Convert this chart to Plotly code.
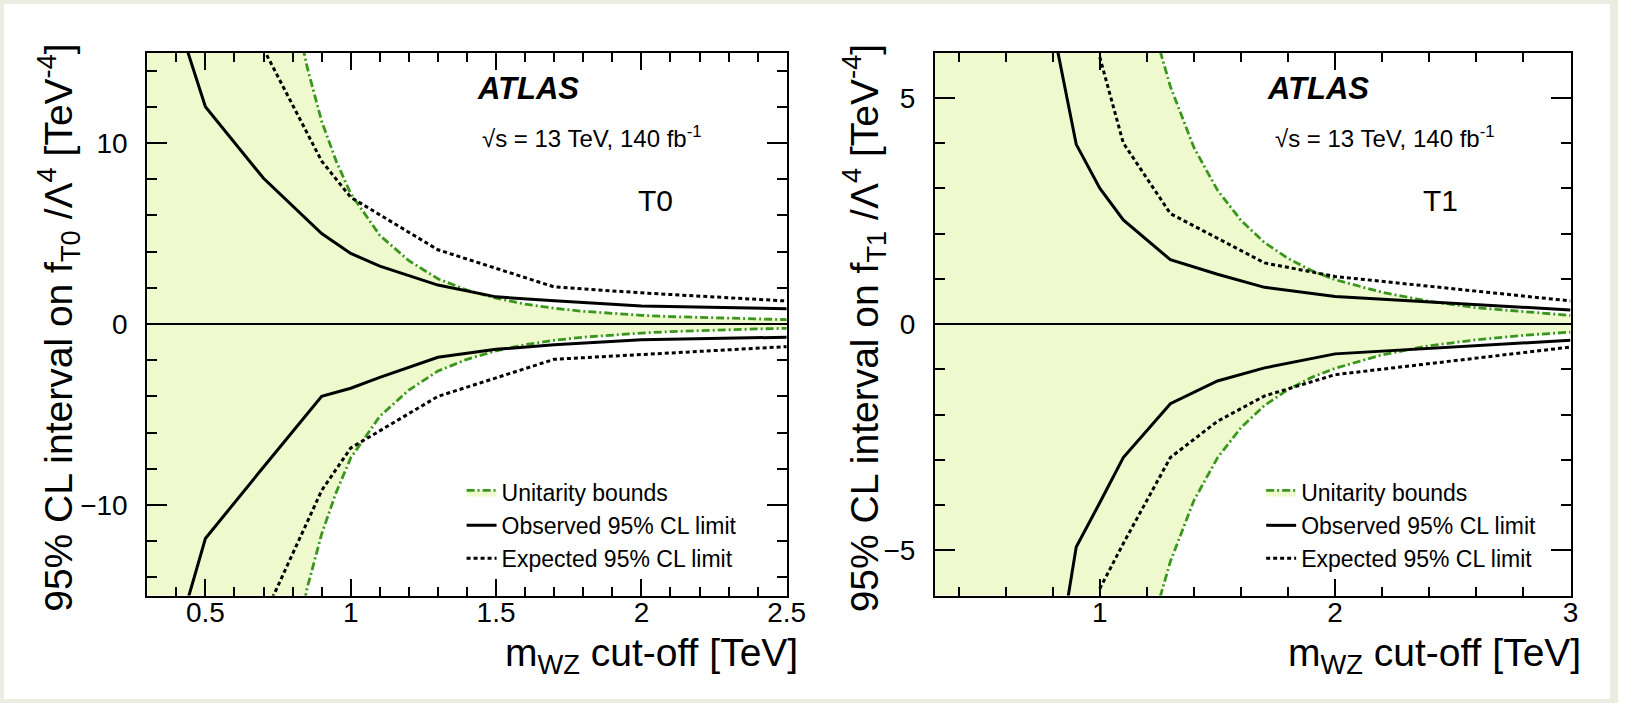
import plotly.graph_objects as go

# ---------------- data ----------------
# Left panel: T0
t0_unit_x = [0.3, 0.4, 0.5, 0.6, 0.7, 0.8, 0.85, 0.9, 0.95, 1.0, 1.1, 1.2, 1.3, 1.4, 1.5,
             1.6, 1.7, 1.8, 1.9, 2.0, 2.1, 2.2, 2.3, 2.4, 2.5]
t0_unit_up = [880, 280, 115, 55, 30, 18.0, 14.2, 11.2, 9.0, 7.2, 4.9, 3.5, 2.5, 1.87, 1.43,
              1.1, 0.87, 0.7, 0.57, 0.48, 0.41, 0.36, 0.31, 0.27, 0.24]
t0_unit_lo = [-900, -290, -118, -57, -31, -18.5, -14.6, -11.6, -9.3, -7.4, -5.1, -3.65, -2.6, -1.95, -1.48,
              -1.14, -0.9, -0.73, -0.6, -0.5, -0.42, -0.36, -0.31, -0.27, -0.24]

t0_obs_x = [0.3, 0.5, 0.7, 0.9, 1.0, 1.1, 1.3, 1.5, 1.7, 2.0, 2.5]
t0_obs_up = [22.0, 12.0, 8.05, 5.0, 3.9, 3.2, 2.15, 1.5, 1.28, 1.0, 0.84]
t0_obs_lo = [-23.0, -11.85, -7.9, -4.0, -3.55, -2.95, -1.84, -1.4, -1.15, -0.87, -0.73]

t0_exp_x = [0.7, 0.9, 1.0, 1.3, 1.7, 2.0, 2.5]
t0_exp_up = [15.2, 9.0, 7.0, 4.1, 2.05, 1.72, 1.27]
t0_exp_lo = [-16.2, -9.2, -6.85, -4.0, -1.95, -1.7, -1.25]

# Right panel: T1
t1_unit_x = [0.3, 0.5, 0.7, 0.9, 1.0, 1.1, 1.2, 1.25, 1.3, 1.4, 1.5, 1.6, 1.7, 1.8, 1.9,
             2.0, 2.2, 2.4, 2.6, 2.8, 3.0]
t1_unit_up = [1850, 240, 62, 22.8, 15.0, 10.2, 7.2, 6.15, 5.25, 3.9, 2.96, 2.29, 1.8, 1.45, 1.18,
              0.98, 0.7, 0.5, 0.36, 0.27, 0.19]
t1_unit_lo = [-1850, -240, -62, -22.8, -15.0, -10.2, -7.2, -6.15, -5.25, -3.9, -2.96, -2.29, -1.8, -1.45, -1.18,
              -0.98, -0.68, -0.48, -0.35, -0.25, -0.18]

t1_obs_x = [0.7, 0.9, 1.0, 1.1, 1.3, 1.5, 1.7, 2.0, 3.0]
t1_obs_up = [9.2, 3.97, 3.0, 2.3, 1.42, 1.1, 0.81, 0.61, 0.31]
t1_obs_lo = [-11.3, -4.93, -3.95, -2.95, -1.76, -1.26, -0.97, -0.66, -0.36]

t1_exp_x = [1.0, 1.1, 1.3, 1.5, 1.7, 2.0, 3.0]
t1_exp_up = [5.9, 4.0, 2.44, 1.9, 1.35, 1.05, 0.51]
t1_exp_lo = [-5.85, -4.85, -2.95, -2.15, -1.59, -1.12, -0.51]

panel_labels = ["T0", "T1"]
leg_names = ["Unitarity bounds", "Observed 95% CL limit", "Expected 95% CL limit"]
ytitles = ["95% CL interval on f<sub>T0</sub> /Λ<sup>4</sup> [TeV<sup>-4</sup>]",
           "95% CL interval on f<sub>T1</sub> /Λ<sup>4</sup> [TeV<sup>-4</sup>]"]
xtitle = "m<sub>WZ</sub> cut-off [TeV]"

# ---------------- styles ----------------
FONT = "Liberation Sans, Arial, Helvetica, sans-serif"
FILL = "rgb(238,249,206)"
GREEN = "rgb(58,150,28)"
W, H = 1633, 703

fig = go.Figure()

panels = [
    dict(ux=t0_unit_x, uu=t0_unit_up, ul=t0_unit_lo, ox=t0_obs_x, ou=t0_obs_up, ol=t0_obs_lo,
         ex=t0_exp_x, eu=t0_exp_up, el=t0_exp_lo, xa="x", ya="y", legend="legend"),
    dict(ux=t1_unit_x, uu=t1_unit_up, ul=t1_unit_lo, ox=t1_obs_x, ou=t1_obs_up, ol=t1_obs_lo,
         ex=t1_exp_x, eu=t1_exp_up, el=t1_exp_lo, xa="x2", ya="y2", legend="legend2"),
]

for p in panels:
    common = dict(xaxis=p["xa"], yaxis=p["ya"], legend=p["legend"], mode="lines", hoverinfo="skip")
    fig.add_trace(go.Scatter(x=p["ux"], y=p["ul"], line=dict(color=GREEN, width=2.8, dash="8px,3px,2px,3px"),
                             showlegend=False, legendgroup="u", **common))
    fig.add_trace(go.Scatter(x=p["ux"], y=p["uu"], line=dict(color=GREEN, width=2.8, dash="8px,3px,2px,3px"),
                             fill="tonexty", fillcolor=FILL, name=leg_names[0], legendgroup="u", **common))
    fig.add_trace(go.Scatter(x=p["ox"], y=p["ou"], line=dict(color="black", width=3),
                             name=leg_names[1], legendgroup="o", **common))
    fig.add_trace(go.Scatter(x=p["ox"], y=p["ol"], line=dict(color="black", width=3),
                             showlegend=False, legendgroup="o", **common))
    fig.add_trace(go.Scatter(x=p["ex"], y=p["eu"], line=dict(color="black", width=3, dash="4px,3px"),
                             name=leg_names[2], legendgroup="e", **common))
    fig.add_trace(go.Scatter(x=p["ex"], y=p["el"], line=dict(color="black", width=3, dash="4px,3px"),
                             showlegend=False, legendgroup="e", **common))

yd = [107.5 / H, 650.5 / H]
xd1 = [149 / W, 796 / W]
xd2 = [946 / W, 1589 / W]

TICKFONT = dict(family=FONT, size=28, color="black")

def xaxis(domain, rng, dtick, mdtick, anchor):
    return dict(domain=domain, range=rng, anchor=anchor, dtick=dtick, tick0=0,
                showline=True, linecolor="black", linewidth=2, mirror="ticks",
                ticks="inside", ticklen=17, tickwidth=2, tickcolor="black",
                minor=dict(dtick=mdtick, tick0=0, ticks="inside", ticklen=9, tickwidth=2, tickcolor="black"),
                showgrid=False, zeroline=False, tickfont=TICKFONT, ticklabelstandoff=-9)

def yaxis(rng, dtick, mdtick, anchor):
    return dict(domain=yd, range=rng, anchor=anchor, dtick=dtick, tick0=0,
                showline=True, linecolor="black", linewidth=2, mirror="ticks",
                ticks="inside", ticklen=20, tickwidth=2, tickcolor="black",
                minor=dict(dtick=mdtick, tick0=0, ticks="inside", ticklen=10, tickwidth=2, tickcolor="black"),
                showgrid=False, zeroline=False, tickfont=TICKFONT, ticklabelstandoff=12)

LEGFONT = dict(family=FONT, size=23)
fig.update_layout(
    width=W, height=H, margin=dict(l=0, r=0, t=0, b=0),
    paper_bgcolor="white", plot_bgcolor="white",
    font=dict(family=FONT, color="black"),
    xaxis=xaxis(xd1, [0.3, 2.5], 0.5, 0.1, "y"),
    yaxis=yaxis([-15, 15], 10, 2, "x"),
    xaxis2=xaxis(xd2, [0.3, 3.0], 1, 0.2, "y2"),
    yaxis2=yaxis([-6, 6], 5, 1, "x2"),
    legend=dict(x=467 / W, y=1 - 471 / H, xanchor="left", yanchor="top", bgcolor="rgba(0,0,0,0)",
                font=LEGFONT, tracegroupgap=0, traceorder="normal", itemwidth=30),
    legend2=dict(x=1276 / W, y=1 - 471 / H, xanchor="left", yanchor="top", bgcolor="rgba(0,0,0,0)",
                 font=LEGFONT, tracegroupgap=0, traceorder="normal", itemwidth=30),
)

shapes = [dict(type="rect", xref="paper", yref="paper", x0=0, x1=1, y0=0, y1=1,
               line=dict(color="rgb(236,236,224)", width=8), layer="below")]
for xa, ya in [("x", "y"), ("x2", "y2")]:
    shapes.append(dict(type="line", xref=f"{xa} domain", yref=ya, x0=0, x1=1, y0=0, y1=0,
                       line=dict(color="black", width=1.8), layer="above"))
fig.update_layout(shapes=shapes)

label_x = [0.765, 0.765]
atlas_x = [0.513, 0.52]
sqrt_x = [0.521, 0.532]
ann = []
for i, (xa, ya) in enumerate([("x", "y"), ("x2", "y2")]):
    xs = f"{xa} domain"
    ys = f"{ya} domain"
    ann.append(dict(xref=xs, yref=ys, x=atlas_x[i], y=0.933, xanchor="left", yanchor="middle",
                    text="<b><i>ATLAS</i></b>", showarrow=False, font=dict(family=FONT, size=31)))
    ann.append(dict(xref=xs, yref=ys, x=sqrt_x[i], y=0.844, xanchor="left", yanchor="middle",
                    text="√s = 13 TeV, 140 fb<sup>-1</sup>", showarrow=False, font=dict(family=FONT, size=24)))
    ann.append(dict(xref=xs, yref=ys, x=label_x[i], y=0.728, xanchor="left", yanchor="middle",
                    text=panel_labels[i], showarrow=False, font=dict(family=FONT, size=30)))
    ann.append(dict(xref=xs, yref="paper", x=1.02, y=1 - 655 / H, xanchor="right", yanchor="middle",
                    text=xtitle, showarrow=False, font=dict(family=FONT, size=39)))
ann.append(dict(xref="paper", yref="paper", x=59 / W, y=1 - 41 / H, xanchor="center", yanchor="top",
                textangle=-90, text=ytitles[0], showarrow=False, font=dict(family=FONT, size=39)))
ann.append(dict(xref="paper", yref="paper", x=874 / W, y=1 - 41 / H, xanchor="center", yanchor="top",
                textangle=-90, text=ytitles[1], showarrow=False, font=dict(family=FONT, size=39)))
fig.update_layout(annotations=ann)

fig.write_html("out.html")
